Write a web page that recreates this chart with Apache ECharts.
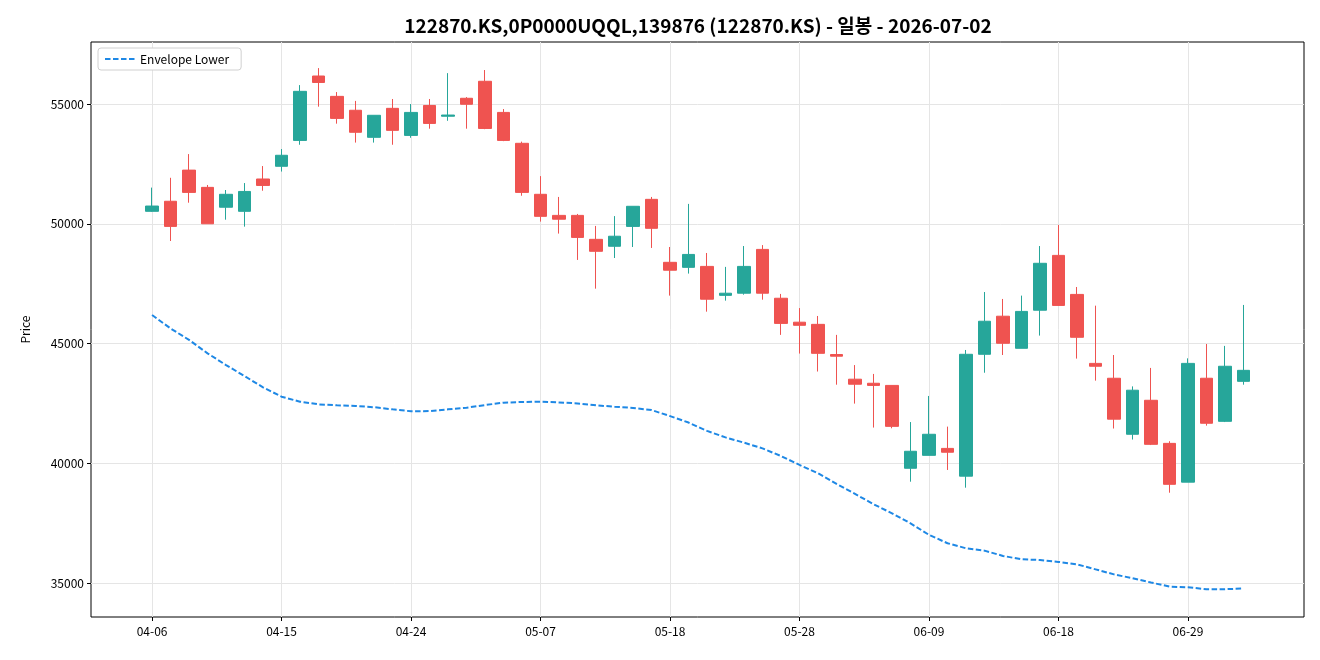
<!DOCTYPE html>
<html>
<head>
<meta charset="utf-8">
<title>122870.KS 일봉</title>
<script src="https://cdn.jsdelivr.net/npm/echarts@6/dist/echarts.min.js"></script>
<style>
  html, body { margin: 0; padding: 0; background: #fff; }
  #chart { width: 1320px; height: 660px; }
</style>
</head>
<body>
<div id="chart"></div>
<script>
// 거래일 (월-일)
const dates = [
  '04-06', '04-07', '04-08', '04-09', '04-10', '04-13', '04-14', '04-15', '04-16', '04-17',
  '04-20', '04-21', '04-22', '04-23', '04-24', '04-27', '04-28', '04-29', '04-30', '05-04',
  '05-06', '05-07', '05-08', '05-11', '05-12', '05-13', '05-14', '05-15', '05-18', '05-19',
  '05-20', '05-21', '05-22', '05-26', '05-27', '05-28', '05-29', '06-01', '06-02', '06-04',
  '06-05', '06-08', '06-09', '06-10', '06-11', '06-12', '06-15', '06-16', '06-17', '06-18',
  '06-19', '06-22', '06-23', '06-24', '06-25', '06-26', '06-29', '06-30', '07-01', '07-02'
];

const opens = [
  50520, 50940, 52240, 51520, 50690, 50520, 51870, 52400, 53480, 56170,
  55320, 54740, 53610, 54820, 53690, 54940, 54490, 55240, 55950, 54650,
  53360, 51230, 50350, 50350, 49350, 49060, 49890, 51020, 48390, 48180,
  48220, 47010, 47100, 48930, 46890, 45890, 45800, 44540, 43510, 43340,
  43250, 39790, 40330, 40620, 39460, 44550, 46140, 44800, 46390, 48680,
  47050, 44170, 43550, 41210, 42630, 40830, 39210, 43550, 41750, 43420
];
const closes = [
  50740, 49890, 51310, 50000, 51230, 51350, 51600, 52860, 55530, 55900,
  54400, 53820, 54530, 53900, 54650, 54190, 54540, 54990, 53980, 53480,
  51310, 50310, 50190, 49430, 48850, 49480, 50730, 49810, 48060, 48720,
  46850, 47100, 48220, 47100, 45840, 45760, 44590, 44470, 43300, 43250,
  41540, 40500, 41210, 40460, 44550, 45930, 45010, 46340, 48350, 46590,
  45260, 44050, 41840, 43050, 40790, 39120, 44170, 41670, 44050, 43880
];
const lows = [
  50500, 49280, 50880, 50000, 50170, 49880, 51380, 52180, 53300, 54890,
  54180, 53390, 53390, 53300, 53590, 53970, 54300, 53970, 53950, 53450,
  51170, 50090, 49590, 48490, 47290, 48570, 49030, 48990, 47000, 47920,
  46330, 46790, 47040, 46830, 45360, 44580, 43830, 43280, 42490, 41490,
  41460, 39230, 40330, 39720, 38980, 43780, 44520, 44800, 45330, 46590,
  44370, 43450, 41450, 40990, 40760, 38770, 39210, 41570, 41720, 43280
];
const highs = [
  51510, 51920, 52910, 51620, 51410, 51700, 52410, 53120, 55790, 56500,
  55500, 55130, 54530, 55210, 55000, 55210, 56290, 55290, 56420, 54790,
  53430, 51990, 51120, 50410, 49910, 50320, 50730, 51120, 49030, 50830,
  48780, 48200, 49070, 49110, 47070, 46480, 46150, 45360, 44100, 43730,
  43250, 41720, 42810, 41530, 44730, 47150, 46860, 47000, 49070, 49950,
  47360, 46580, 44520, 43210, 43980, 40920, 44380, 44980, 44900, 46610
];

// Envelope 하단선
const envelopeLower = [
  46190, 45630, 45150, 44590, 44100, 43640, 43170, 42780, 42570, 42460,
  42420, 42390, 42340, 42250, 42170, 42180, 42250, 42320, 42430, 42530,
  42560, 42570, 42540, 42500, 42420, 42360, 42310, 42220, 41970, 41700,
  41350, 41080, 40860, 40620, 40300, 39930, 39580, 39140, 38720, 38290,
  37910, 37490, 37010, 36660, 36450, 36350, 36130, 35990, 35960, 35880,
  35780, 35570, 35360, 35200, 35020, 34850, 34820, 34740, 34740, 34770
];

const xTicks = [0, 7, 14, 21, 28, 35, 42, 49, 56];
const yTicks = [35000, 40000, 45000, 50000, 55000];

const UP_COLOR = '#26a69a';
const DOWN_COLOR = '#ef5350';
const LINE_COLOR = '#1e88e5';
const FONT = 'Noto Sans CJK KR';

const chart = echarts.init(document.getElementById('chart'), null, { renderer: 'canvas' });

const candleData = dates.map((d, i) => [i, opens[i], closes[i], lows[i], highs[i]]);
const lineData = dates.map((d, i) => [i, envelopeLower[i]]);

const option = {
  animation: false,
  backgroundColor: '#fff',
  textStyle: { fontFamily: FONT },
  graphic: [
    {
      type: 'text',
      x: 698,
      y: 26,
      style: {
        text: '122870.KS,0P0000UQQL,139876 (122870.KS) - 일봉 - 2026-07-02',
        font: 'bold 19px "Noto Sans CJK KR"',
        fill: '#000',
        textAlign: 'center',
        textVerticalAlign: 'middle'
      }
    }
  ],
  legend: {
    left: 98,
    top: 48,
    orient: 'vertical',
    padding: [5, 12, 5, 6],
    borderColor: '#d0d0d0',
    borderWidth: 1,
    borderRadius: 3,
    backgroundColor: '#fff',
    itemWidth: 30,
    itemHeight: 10,
    itemGap: 4,
    itemStyle: { opacity: 0 },
    lineStyle: { color: LINE_COLOR, width: 2, type: [5.5, 2.5] },
    textStyle: { fontSize: 12, color: '#000', fontFamily: FONT },
    data: ['Envelope Lower']
  },
  grid: {
    left: 91,
    right: 16,
    top: 42,
    bottom: 43,
    show: true,
    borderColor: '#000',
    borderWidth: 1,
    backgroundColor: '#fff'
  },
  xAxis: {
    type: 'value',
    min: -3.3,
    max: 62.27,
    axisLine: { show: false, onZero: false },
    axisTick: {
      show: true,
      customValues: xTicks,
      length: 4,
      lineStyle: { color: '#000' }
    },
    axisLabel: {
      customValues: xTicks,
      formatter: (v) => dates[Math.round(v)] || '',
      color: '#000',
      fontSize: 12,
      margin: 8,
      fontFamily: FONT
    },
    splitLine: { show: true, lineStyle: { color: '#e5e5e5', width: 1 } }
  },
  yAxis: {
    type: 'value',
    min: 33580,
    max: 57590,
    name: 'Price',
    nameLocation: 'middle',
    nameRotate: 90,
    nameGap: 60,
    nameTextStyle: { color: '#000', fontSize: 12, fontFamily: FONT },
    axisLine: { show: false, onZero: false },
    axisTick: {
      show: true,
      customValues: yTicks,
      length: 4,
      lineStyle: { color: '#000' }
    },
    axisLabel: {
      customValues: yTicks,
      formatter: (v) => String(v),
      color: '#000',
      fontSize: 12,
      margin: 7,
      fontFamily: FONT
    },
    splitLine: { show: true, lineStyle: { color: '#e5e5e5', width: 1 } }
  },
  series: [
    {
      name: 'Candles',
      type: 'candlestick',
      data: candleData,
      encode: { x: 0, y: [1, 2, 3, 4] },
      barWidth: 13,
      itemStyle: {
        color: UP_COLOR,
        color0: DOWN_COLOR,
        borderColor: UP_COLOR,
        borderColor0: DOWN_COLOR,
        borderWidth: 1
      }
    },
    {
      name: 'Envelope Lower',
      type: 'line',
      data: lineData,
      showSymbol: false,
      symbol: 'none',
      z: 3,
      lineStyle: { color: LINE_COLOR, width: 2, type: [5.5, 2.5] },
      itemStyle: { color: LINE_COLOR }
    }
  ]
};

chart.setOption(option);
</script>
</body>
</html>
